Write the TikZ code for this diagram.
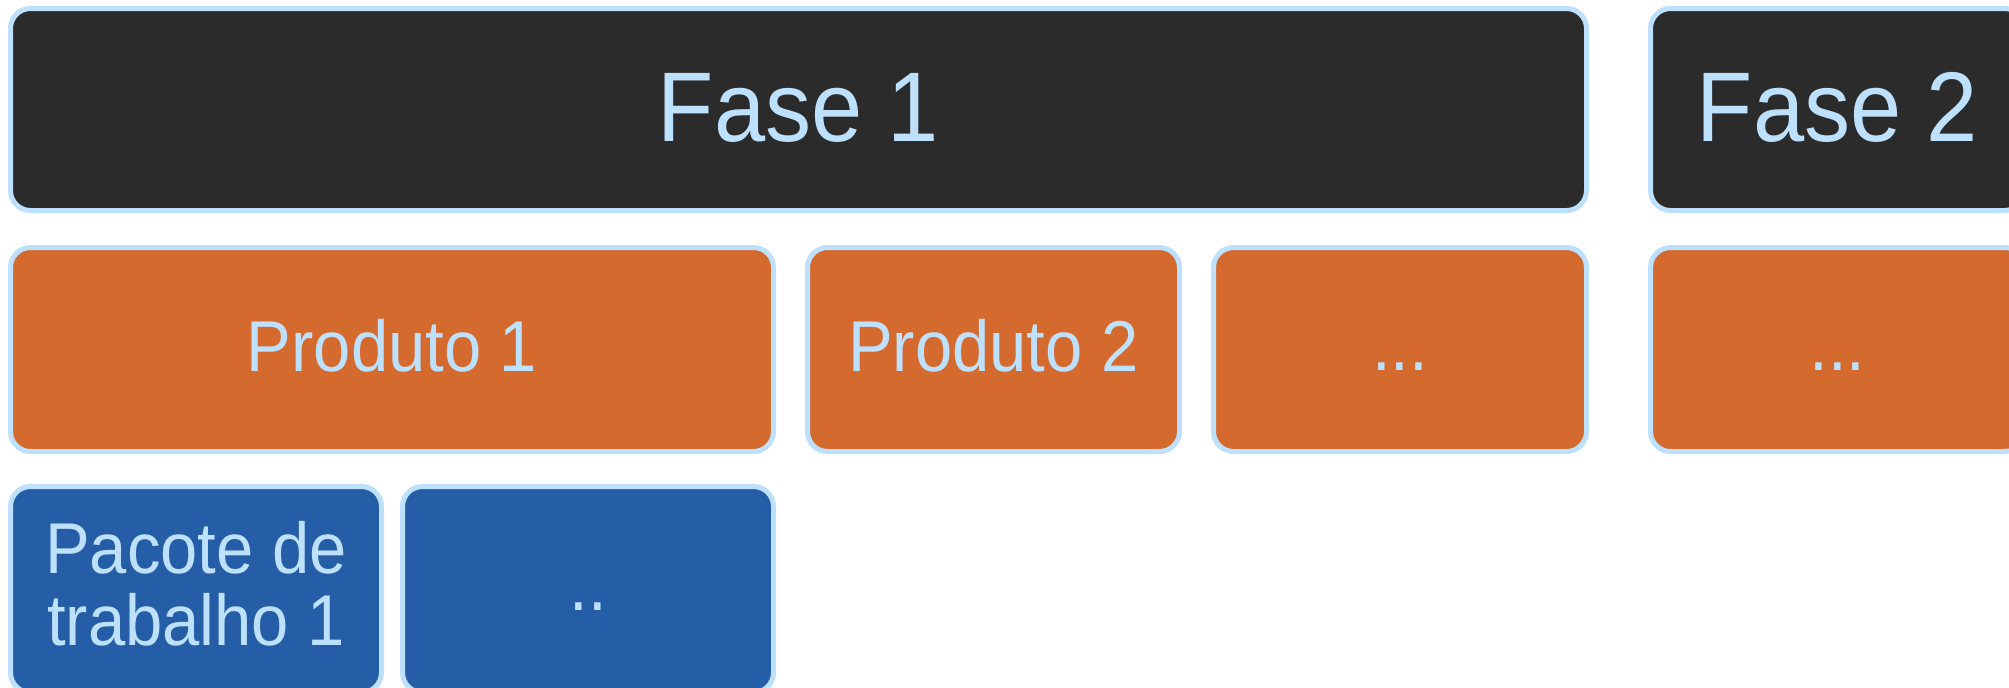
\documentclass[tikz,border=0pt]{standalone}
\usepackage{fontspec}
\setmainfont{Liberation Sans}[FakeStretch=0.93]

\definecolor{fasegray}{RGB}{43,43,43}
\definecolor{prodorange}{RGB}{213,106,47}
\definecolor{workblue}{RGB}{37,93,166}
\definecolor{edgeblue}{RGB}{189,224,252}

\tikzset{
  box/.style={draw=edgeblue, line width=2.5pt, rounded corners=10pt, text=edgeblue, inner sep=0pt, align=center},
  fasebox/.style={box, fill=fasegray, minimum height=101pt, text depth=2.5pt, font=\fontsize{49.5}{52}\selectfont},
  prodbox/.style={box, fill=prodorange, minimum height=102pt, text depth=4pt, font=\fontsize{36}{36}\selectfont},
  workbox/.style={box, fill=workblue, minimum height=103pt, font=\fontsize{36}{36}\selectfont},
}

\begin{document}
\begin{tikzpicture}[x=0.5pt,y=-0.5pt]
          \clip (0,0) rectangle (2009,687);

          % fases
          \node[fasebox, minimum width=788pt] (fase1) at (798.5,109.5) {Fase 1};
          \node[fasebox, minimum width=187pt] (fase2) at (1837.5,109.5) {Fase 2};

          % produtos
          \node[prodbox, minimum width=381.5pt] (prod1) at (392,349.5) {Produto 1};
          \node[prodbox, minimum width=186pt] (prod2) at (993.5,349.5) {Produto 2};
          \node[prodbox, minimum width=186.5pt] (prodmore) at (1400,349.5) {\vphantom{P}...};
          \node[prodbox, minimum width=187pt] (prodfase2) at (1837.5,349.5) {\vphantom{P}...};

          % pacotes de trabalho
          \node[workbox, minimum width=185.5pt, text depth=6pt] (pac1) at (196,589.5) {Pacote de\\trabalho 1};
          \node[workbox, minimum width=185.5pt, text depth=4pt] (pacmore) at (588,589.5) {\vphantom{P}..};
        \end{tikzpicture}
\end{document}
